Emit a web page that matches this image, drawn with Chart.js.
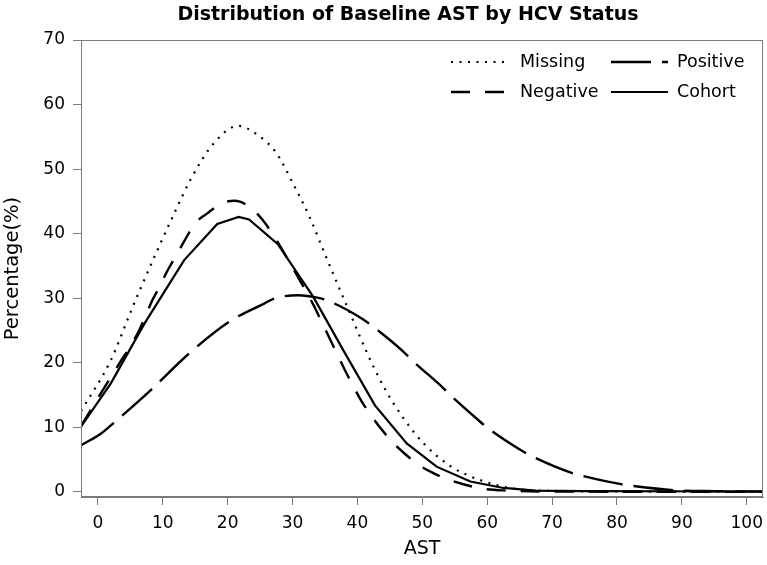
<!DOCTYPE html>
<html><head><meta charset="utf-8">
<script src="https://cdn.jsdelivr.net/npm/chart.js@4/dist/chart.umd.min.js"></script>
<style>html,body{margin:0;padding:0;background:#fff}</style>
</head><body>
<canvas id="c" width="767" height="565"></canvas>
<script>
// ---- data ----
const seriesNames = ["Missing", "Positive", "Negative", "Cohort"];

const missingX = [-2.6, 2.0, 5.1, 6.4, 9.2, 11.8, 14.4, 17.7, 21.6, 24.6, 27.5, 29.8, 32.7, 35.0, 37.6, 38.8, 41.4, 44.2, 47.1, 50.2, 54.3, 57.4, 60.9, 64.0, 70, 80, 102.5];
const missingY = [12.5, 20.4, 28.0, 31.1, 37.5, 43.2, 48.6, 53.8, 56.7, 55.3, 52.5, 48.3, 42.4, 36.8, 30.6, 27.8, 21.7, 16.0, 11.4, 7.5, 4.0, 2.4, 1.2, 0.5, 0.15, 0.05, 0.0];

const positiveX = [-2.6, 0.5, 2.0, 8.2, 13.8, 20.3, 25.7, 27.3, 31.0, 33.2, 35.2, 40.6, 42.4, 47.1, 48.4, 53.0, 54.3, 57.4, 60.2, 65.6, 67.1, 72.8, 74.6, 80.8, 82.3, 88.7, 95, 102.5];
const positiveY = [7.2, 9.05, 10.3, 15.8, 21.2, 26.4, 29.2, 30.0, 30.45, 30.2, 29.7, 26.9, 25.6, 21.7, 20.4, 16.3, 15.0, 12.2, 9.8, 6.2, 5.4, 3.0, 2.5, 1.15, 0.93, 0.26, 0.1, 0.05];

const negativeX = [-2.6, 3.5, 5.1, 6.4, 7.4, 8.4, 9.2, 10.8, 12.3, 13.4, 15.0, 16.8, 19.1, 21.1, 23.7, 25.4, 27.2, 31.1, 33.2, 34.5, 35.8, 37.0, 38.1, 39.4, 40.6, 42.2, 43.7, 45.5, 47.3, 49.4, 51.7, 54.0, 56.6, 59.2, 63, 70, 102.5];
const negativeY = [10.2, 20.2, 22.7, 25.1, 27.4, 29.7, 31.2, 34.4, 37.0, 39.0, 41.6, 43.1, 44.7, 45.1, 43.9, 42.1, 39.5, 32.8, 29.0, 26.3, 23.6, 21.1, 18.8, 16.3, 14.1, 11.7, 9.7, 7.6, 5.9, 4.2, 2.9, 1.9, 1.1, 0.5, 0.2, 0.05, 0.0];

const cohortX = [-2.6, 2.0, 7.2, 13.3, 18.4, 21.7, 23.3, 27.7, 33.2, 37.9, 42.7, 47.6, 52.2, 57.4, 62.5, 67.5, 75, 102.5];
const cohortY = [10.1, 16.8, 26.1, 35.9, 41.5, 42.6, 42.2, 38.4, 30.2, 21.8, 13.4, 7.5, 3.9, 1.6, 0.6, 0.2, 0.1, 0.05];

const xTickValues = [0, 10, 20, 30, 40, 50, 60, 70, 80, 90, 100];
const yTickValues = [0, 10, 20, 30, 40, 50, 60, 70];

const pts = (xs, ys) => xs.map((x, i) => ({x: x, y: ys[i]}));

const FONT = "'DejaVu Sans', sans-serif";
const FRAME = '#7a7a7a';

const framePlugin = {
  id: 'frame',
  afterDraw(chart) {
    const {ctx, chartArea: a} = chart;
    ctx.save();
    ctx.strokeStyle = FRAME;
    ctx.lineWidth = 1;
    ctx.strokeRect(Math.round(a.left) + 0.5, Math.round(a.top) + 0.5, Math.round(a.right - a.left) - 1, Math.round(a.bottom - a.top) - 1);
    ctx.restore();
  }
};

const titlePlugin = {
  id: 'mytitle',
  afterDraw(chart) {
    const ctx = chart.ctx;
    ctx.save();
    ctx.fillStyle = '#000';
    ctx.font = "bold 19px " + FONT;
    ctx.textAlign = 'center';
    ctx.textBaseline = 'middle';
    ctx.fillText("Distribution of Baseline AST by HCV Status", 408, 15);
    ctx.restore();
  }
};

const legendPlugin = {
  id: 'mylegend',
  afterDraw(chart) {
    const ctx = chart.ctx;
    const colX = [451, 611];
    const textX = [520, 677];
    const rowY = [62, 92];
    ctx.save();
    chart.data.datasets.forEach((ds, i) => {
      const c = i % 2, r = Math.floor(i / 2);
      ctx.strokeStyle = ds.borderColor;
      ctx.lineWidth = ds.borderWidth;
      ctx.lineCap = 'butt';
      ctx.setLineDash(ds.borderDash || []);
      ctx.beginPath();
      ctx.moveTo(colX[c], rowY[r]);
      ctx.lineTo(colX[c] + 57, rowY[r]);
      ctx.stroke();
      ctx.setLineDash([]);
      ctx.fillStyle = '#000';
      ctx.font = "17.5px " + FONT;
      ctx.textAlign = 'left';
      ctx.textBaseline = 'middle';
      ctx.fillText(ds.label, textX[c], rowY[r]);
    });
    ctx.restore();
  }
};

const common = {
  borderColor: '#000',
  pointRadius: 0,
  pointHoverRadius: 0,
  fill: false,
  borderCapStyle: 'butt'
};

new Chart(document.getElementById('c'), {
  type: 'line',
  data: {
    datasets: [
      Object.assign({}, common, {label: seriesNames[0], data: pts(missingX, missingY), borderWidth: 2.2, borderDash: [2, 6.5], cubicInterpolationMode: 'monotone'}),
      Object.assign({}, common, {label: seriesNames[1], data: pts(positiveX, positiveY), borderWidth: 2.4, borderDash: [40, 11], cubicInterpolationMode: 'monotone'}),
      Object.assign({}, common, {label: seriesNames[2], data: pts(negativeX, negativeY), borderWidth: 2.4, borderDash: [19, 15], cubicInterpolationMode: 'monotone'}),
      Object.assign({}, common, {label: seriesNames[3], data: pts(cohortX, cohortY), borderWidth: 2.2, tension: 0})
    ]
  },
  options: {
    responsive: false,
    animation: false,
    devicePixelRatio: 1,
    layout: {padding: {top: 40, right: 4, left: 0, bottom: 0}},
    plugins: {
      legend: {display: false},
      title: {display: false},
      tooltip: {enabled: false}
    },
    scales: {
      x: {
        type: 'linear',
        min: -2.6,
        max: 102.5,
        afterFit(s) { s.height = 68; s.paddingLeft = 0; s.paddingRight = 0; },
        afterBuildTicks(s) { s.ticks = xTickValues.map(v => ({value: v})); },
        ticks: {includeBounds: false, color: '#000', font: {family: FONT, size: 17}, padding: 8, autoSkip: false, maxRotation: 0},
        grid: {drawOnChartArea: false, drawTicks: true, tickLength: 8, color: FRAME, tickColor: FRAME},
        border: {display: true, color: FRAME},
        title: {display: true, text: 'AST', color: '#000', font: {family: FONT, size: 19}, padding: {top: 0, bottom: 5}}
      },
      y: {
        type: 'linear',
        min: -0.8,
        max: 70,
        afterFit(s) { s.width = 81; s.paddingTop = 0; s.paddingBottom = 0; },
        afterBuildTicks(s) { s.ticks = yTickValues.map(v => ({value: v})); },
        ticks: {includeBounds: false, color: '#000', font: {family: FONT, size: 17}, padding: 8, autoSkip: false},
        grid: {drawOnChartArea: false, drawTicks: true, tickLength: 8, color: FRAME, tickColor: FRAME},
        border: {display: true, color: FRAME},
        title: {display: true, text: 'Percentage(%)', color: '#000', font: {family: FONT, size: 19.5}, padding: {top: 1, bottom: 0}}
      }
    }
  },
  plugins: [framePlugin, titlePlugin, legendPlugin]
});
</script>
</body></html>
